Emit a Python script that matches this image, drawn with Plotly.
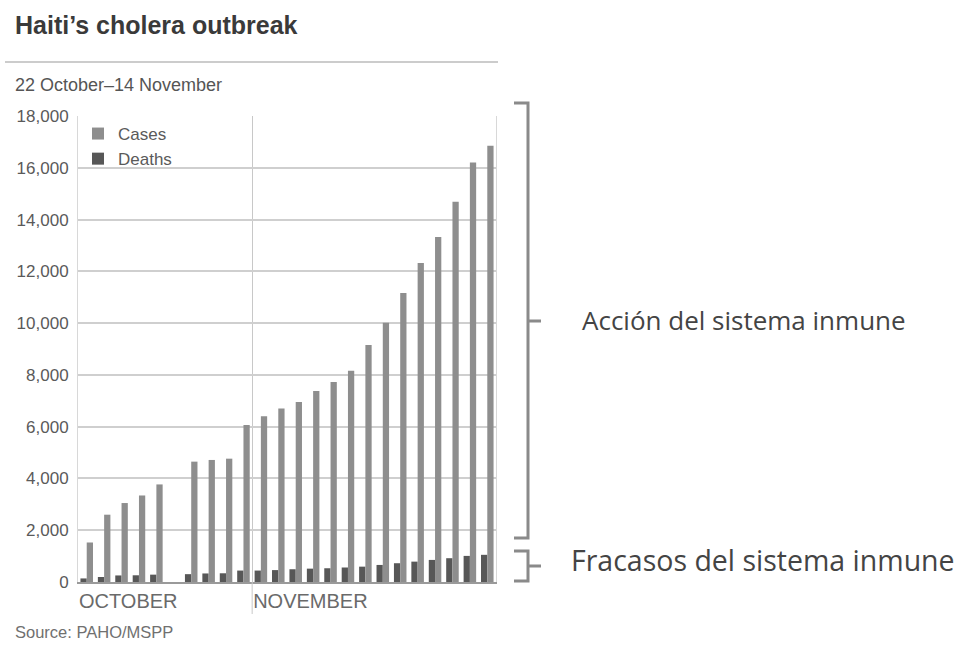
import plotly.graph_objects as go

# ---------------- data ----------------
dates = ["2010-10-22", "2010-10-23", "2010-10-24", "2010-10-25", "2010-10-26",
         "2010-10-28", "2010-10-29", "2010-10-30", "2010-10-31",
         "2010-11-01", "2010-11-02", "2010-11-03", "2010-11-04", "2010-11-05",
         "2010-11-06", "2010-11-07", "2010-11-08", "2010-11-09", "2010-11-10",
         "2010-11-11", "2010-11-12", "2010-11-13", "2010-11-14"]
cases = [1526, 2600, 3050, 3342, 3769,
         4649, 4714, 4764, 6060,
         6400, 6700, 6950, 7380, 7730,
         8160, 9150, 10010, 11160, 12320,
         13330, 14690, 16200, 16850]
deaths = [138, 194, 253, 259, 284,
          303, 330, 337, 442,
          442, 460, 493, 516, 531,
          560, 593, 659, 725, 787,
          853, 919, 1008, 1050]

month_ticks = ["2010-10-21 12:00", "2010-10-31 12:00"]
month_labels = ["OCTOBER", "NOVEMBER"]
y_ticks = [0, 2000, 4000, 6000, 8000, 10000, 12000, 14000, 16000, 18000]

title = "Haiti’s cholera outbreak"
subtitle = "22 October–14 November"
source = "Source: PAHO/MSPP"
label_top = "Acción del sistema inmune"
label_bottom = "Fracasos del sistema inmune"

# ---------------- layout geometry (pixels) ----------------
W, H = 967, 653
L, R, T, B = 78, 496, 116, 582


def px(x):
    return (x - L) / (R - L)


def py(y):
    return (B - y) / (B - T)


fig = go.Figure()
fig.add_trace(go.Bar(x=dates, y=deaths, name="Deaths", marker_color="#575757",
                     marker_line_width=0, legendrank=2))
fig.add_trace(go.Bar(x=dates, y=cases, name="Cases", marker_color="#8e8e8e",
                     marker_line_width=0, legendrank=1))

font_main = "Liberation Sans, Arial, Helvetica, sans-serif"
font_side = "Open Sans, Noto Sans, sans-serif"

fig.update_layout(
    width=W, height=H,
    margin=dict(l=L, r=W - R, t=T, b=H - B, autoexpand=False),
    paper_bgcolor="white", plot_bgcolor="white",
    barmode="group", bargap=0.28, bargroupgap=0.0,
    font=dict(family=font_main, color="#555555"),
    showlegend=True,
    legend=dict(x=0.0, y=1.0, xanchor="left", yanchor="top",
                bgcolor="rgba(255,255,255,0)", font=dict(size=17, color="#5a5a5a"),
                itemwidth=30, tracegroupgap=0, traceorder="normal"),
    xaxis=dict(
        type="date",
        range=["2010-10-21 12:00", "2010-11-14 12:00"],
        tickmode="array", tickvals=month_ticks, ticktext=month_labels,
        ticklabelposition="outside right",
        tickfont=dict(size=20, color="#6a6a6a"),
        ticks="", showgrid=True, gridcolor="#c8c8c8", gridwidth=1,
        showline=True, linecolor="#9a9a9a", linewidth=2,
        zeroline=False,
    ),
    yaxis=dict(
        range=[0, 18000],
        tickmode="array", tickvals=y_ticks, tickformat=",",
        tickfont=dict(size=17, color="#5a5a5a"),
        ticks="outside", ticklen=5, tickcolor="white",
        showgrid=True, gridcolor="#cfcfcf", gridwidth=2,
        showline=True, linecolor="#d8d8d8", linewidth=1, mirror=True,
        zeroline=False,
    ),
)

# title area
fig.add_annotation(text="<b>" + title + "</b>", xref="paper", yref="paper",
                   x=px(13), y=py(25), xanchor="left", yanchor="middle",
                   showarrow=False, font=dict(size=25, color="#3a3a3a", family=font_main))
fig.add_annotation(text=subtitle, xref="paper", yref="paper",
                   x=px(13), y=py(85), xanchor="left", yanchor="middle",
                   showarrow=False, font=dict(size=18, color="#555555", family=font_main))
fig.add_annotation(text=source, xref="paper", yref="paper",
                   x=px(13), y=py(632), xanchor="left", yanchor="middle",
                   showarrow=False, font=dict(size=16.5, color="#707070", family=font_main))

# horizontal rule under title
fig.add_shape(type="line", xref="paper", yref="paper",
              x0=px(5), x1=px(498), y0=py(62), y1=py(62),
              line=dict(color="#cccccc", width=2))

# month divider tick below axis
fig.add_shape(type="line", xref="x", yref="paper",
              x0=month_ticks[1], x1=month_ticks[1], y0=py(582), y1=py(614),
              line=dict(color="#c8c8c8", width=1))

# brackets
def bracket(top, bottom, mid):
    xs, xv, xt = px(514), px(528), px(541)
    path = (f"M {xs} {py(top)} L {xv} {py(top)} L {xv} {py(bottom)} L {xs} {py(bottom)} "
            f"M {xv} {py(mid)} L {xt} {py(mid)}")
    fig.add_shape(type="path", xref="paper", yref="paper", path=path,
                  line=dict(color="#8a8a8a", width=3))


bracket(103, 538, 321)
bracket(551, 581, 566)

fig.add_annotation(text=label_top, xref="paper", yref="paper",
                   x=px(580), y=py(320), xanchor="left", yanchor="middle",
                   showarrow=False, font=dict(size=26, color="#444444", family=font_side))
fig.add_annotation(text=label_bottom, xref="paper", yref="paper",
                   x=px(569), y=py(560), xanchor="left", yanchor="middle",
                   showarrow=False, font=dict(size=28.5, color="#444444", family=font_side))

fig.write_html("out.html")
